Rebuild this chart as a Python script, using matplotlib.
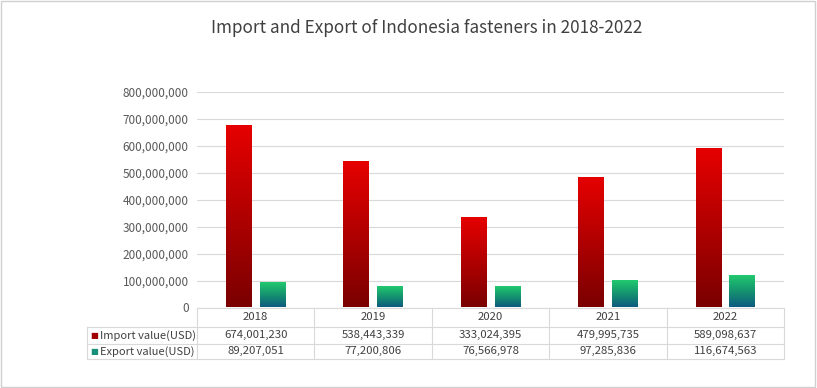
import numpy as np
import matplotlib.pyplot as plt
from matplotlib.colors import LinearSegmentedColormap
from matplotlib.ticker import FuncFormatter

plt.rcParams['font.family'] = ['Noto Sans CJK SC', 'DejaVu Sans']

# data
years = ['2018', '2019', '2020', '2021', '2022']
import_usd = [674001230, 538443339, 333024395, 479995735, 589098637]
export_usd = [89207051, 77200806, 76566978, 97285836, 116674563]
row_names = ['Import value(USD)', 'Export value(USD)']

imp_cmap = LinearSegmentedColormap.from_list('imp', ['#7a0000', '#b00000', '#e60000'])
exp_cmap = LinearSegmentedColormap.from_list('exp', ['#0e5a80', '#15936f', '#22c970'])

fig = plt.figure(figsize=(8.17, 3.88), dpi=100)
ax = fig.add_axes([197/817, 1-307.5/388, (784-197)/817, 215.5/388])

x = np.arange(len(years))
w = 0.22
grad = np.linspace(0, 1, 256).reshape(-1, 1)

def grad_bars(xs, vals, cmap):
    bars = ax.bar(xs, vals, width=w, color='none', zorder=3)
    for b in bars:
        x0, y0 = b.get_x(), b.get_y()
        ax.imshow(grad, cmap=cmap, origin='lower', aspect='auto', zorder=3,
                  extent=[x0, x0 + b.get_width(), y0, y0 + b.get_height()])

grad_bars(x - 0.143, import_usd, imp_cmap)
grad_bars(x + 0.145, export_usd, exp_cmap)

ax.set_xlim(-0.5, len(years) - 0.5)
ax.set_ylim(0, 800000000)
ax.set_yticks(np.arange(0, 800000001, 100000000))
ax.yaxis.set_major_formatter(FuncFormatter(lambda v, p: f'{int(v):,}'))
ax.tick_params(axis='y', length=0, labelsize=8.5, labelcolor='#595959', pad=6)
ax.set_xticks([])
ax.grid(axis='y', color='#d9d9d9', linewidth=0.8, zorder=0)
for s in ax.spines.values():
    s.set_visible(False)

# data table under the chart (y in axes fraction)
px = 1 / 215.5
tr = ax.get_xaxis_transform()
lc = '#d9d9d9'
y_top = 0
y_r1 = -19.5 * px
y_r2 = -36 * px
y_bot = -51.5 * px
xl = -0.5 - (197 - 87) / (587 / 5)
xr = len(years) - 0.5
kw = dict(transform=tr, clip_on=False, color=lc, linewidth=0.8)
ax.plot([-0.5, xr], [y_top, y_top], **kw)
for yy in (y_r1, y_r2, y_bot):
    ax.plot([xl, xr], [yy, yy], **kw)
ax.plot([xl, xl], [y_r1, y_bot], **kw)
for i in range(len(years) + 1):
    ax.plot([i - 0.5, i - 0.5], [y_top, y_bot], **kw)

tkw = dict(transform=tr, ha='center', va='center', fontsize=8.2, color='#404040', clip_on=False)
for i, yr in enumerate(years):
    ax.text(i, (y_top + y_r1) / 2, yr, **tkw)
    ax.text(i, (y_r1 + y_r2) / 2, f'{import_usd[i]:,}', **tkw)
    ax.text(i, (y_r2 + y_bot) / 2, f'{export_usd[i]:,}', **tkw)

for yy, name, c in [((y_r1 + y_r2) / 2, row_names[0], '#a00000'),
                    ((y_r2 + y_bot) / 2, row_names[1], '#17907a')]:
    ax.text(xl + 0.03, yy, '■', transform=tr, ha='left', va='center', fontsize=6,
            color=c, clip_on=False, family='DejaVu Sans')
    ax.text(xl + 0.11, yy, name, transform=tr, ha='left', va='center', fontsize=8,
            color='#404040', clip_on=False)

fig.text(427/817, 1 - 28/388, 'Import and Export of Indonesia fasteners in 2018-2022',
         ha='center', va='center', fontsize=12.3, color='#404040')

# outer border
fig.add_artist(plt.Rectangle((0.001, 0.002), 0.997, 0.996, transform=fig.transFigure,
                             fill=False, edgecolor='#d0d0d0', linewidth=1))

fig.savefig('out.png', dpi=100)
